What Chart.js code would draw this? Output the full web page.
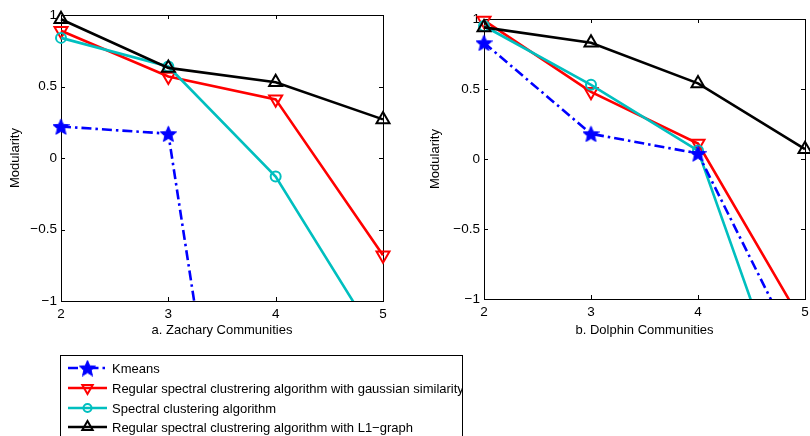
<!DOCTYPE html>
<html>
<head>
<meta charset="utf-8">
<script src="https://cdn.jsdelivr.net/npm/chart.js@4.4.1/dist/chart.umd.min.js"></script>
<style>
  html, body { margin: 0; padding: 0; background: #fff; width: 810px; height: 436px; overflow: hidden; position: relative; }
  canvas { position: absolute; }
</style>
</head>
<body>
<canvas id="left" style="left:0;top:0;width:420px;height:345px"></canvas>
<canvas id="right" style="left:420px;top:0;width:420px;height:345px"></canvas>
<canvas id="legend" style="left:0;top:340px;width:810px;height:96px"></canvas>
<script>
// ---------- data ----------
const communities = [2, 3, 4, 5];
const yTicks = [-1, -0.5, 0, 0.5, 1];
const seriesNames = [
  'Kmeans',
  'Regular spectral clustrering algorithm with gaussian similarity',
  'Spectral clustering algorithm',
  'Regular spectral clustrering algorithm with L1\u2212graph'
];
// a. Zachary
const zacharyKmeans   = [0.22, 0.17, -4.7, -6.0];
const zacharyGaussian = [0.89, 0.57, 0.41, -0.68];
const zacharySpectral = [0.84, 0.64, -0.13, -1.34];
const zacharyL1       = [0.97, 0.63, 0.53, 0.27];
// b. Dolphin
const dolphinKmeans   = [0.83, 0.18, 0.04, -1.49];
const dolphinGaussian = [0.99, 0.48, 0.11, -1.20];
const dolphinSpectral = [0.95, 0.53, 0.06, -2.10];
const dolphinL1       = [0.94, 0.83, 0.54, 0.07];

// ---------- styles ----------
const FONT = 'Liberation Sans, Arial, Helvetica, sans-serif';
const BLUE = '#0000ff', RED = '#ff0000', CYAN = '#00bfbf', BLACK = '#000000';

function makeStar(size, color) {
  const c = document.createElement('canvas');
  c.width = size; c.height = size;
  const g = c.getContext('2d');
  const cx = size / 2, cy = size / 2 + 0.9, R = size / 2, r = R * 0.45;
  g.beginPath();
  for (let i = 0; i < 10; i++) {
    const a = -Math.PI / 2 + i * Math.PI / 5;
    const rad = i % 2 === 0 ? R : r;
    g.lineTo(cx + rad * Math.cos(a), cy + rad * Math.sin(a));
  }
  g.closePath();
  g.fillStyle = color; g.fill();
  g.strokeStyle = color; g.lineWidth = 1; g.stroke();
  return c;
}
const starImg = makeStar(17, BLUE);

const styles = [
  { color: BLUE, dash: [10, 4, 2.5, 4], pointStyle: starImg, radius: 8, rotation: 0, fill: BLUE },
  { color: RED, dash: [], pointStyle: 'triangle', radius: 7.5, rotation: 180, fill: 'rgba(0,0,0,0)' },
  { color: CYAN, dash: [], pointStyle: 'circle', radius: 5, rotation: 0, fill: 'rgba(0,0,0,0)' },
  { color: BLACK, dash: [], pointStyle: 'triangle', radius: 7.5, rotation: 0, fill: 'rgba(0,0,0,0)' }
];

function toPoints(vals) { return communities.map((x, i) => ({ x: x, y: vals[i] })); }

function buildDatasets(seriesList) {
  return seriesList.map((vals, i) => {
    const s = styles[i];
    return {
      label: seriesNames[i],
      data: toPoints(vals),
      borderColor: s.color,
      backgroundColor: s.fill,
      borderWidth: 2.6,
      borderDash: s.dash,
      pointStyle: s.pointStyle,
      pointRadius: s.radius,
      pointRotation: s.rotation,
      pointBorderColor: s.color,
      pointBackgroundColor: s.fill,
      pointBorderWidth: 2,
      tension: 0,
      fill: false,
      clip: { left: 12, top: 12, right: 12, bottom: 0 },
      order: i === 0 ? 0 : 4 - i
    };
  });
}

function fmt(v) {
  if (v === 0) return '0';
  const s = String(Math.abs(v));
  return (v < 0 ? '\u2212' : '') + s;
}

// box + inward ticks (MATLAB style)
const boxPlugin = {
  id: 'matlabBox',
  beforeDatasetsDraw(chart) {
    const { ctx, chartArea: a, scales } = chart;
    ctx.save();
    ctx.strokeStyle = '#000';
    ctx.lineWidth = 1;
    ctx.strokeRect(Math.round(a.left) + 0.5, Math.round(a.top) + 0.5,
                   Math.round(a.right - a.left), Math.round(a.bottom - a.top));
    const L = 4;
    ctx.beginPath();
    communities.forEach(v => {
      const px = Math.round(scales.x.getPixelForValue(v)) + 0.5;
      ctx.moveTo(px, a.bottom); ctx.lineTo(px, a.bottom - L);
      ctx.moveTo(px, a.top); ctx.lineTo(px, a.top + L);
    });
    yTicks.forEach(v => {
      const py = Math.round(scales.y.getPixelForValue(v)) + 0.5;
      ctx.moveTo(a.left, py); ctx.lineTo(a.left + L, py);
      ctx.moveTo(a.right, py); ctx.lineTo(a.right - L, py);
    });
    ctx.stroke();
    ctx.restore();
  }
};

function makeChart(id, seriesList, title, geom) {
  return new Chart(document.getElementById(id), {
    type: 'line',
    data: { datasets: buildDatasets(seriesList) },
    options: {
      responsive: false,
      animation: false,
      devicePixelRatio: 1,
      layout: { padding: { top: geom.top, right: geom.right, left: 0, bottom: 0 } },
      plugins: { legend: { display: false }, tooltip: { enabled: false } },
      scales: {
        x: {
          type: 'linear', min: 2, max: 5,
          afterFit(s) { s.height = geom.xh; },
          afterBuildTicks(s) { s.ticks = communities.map(v => ({ value: v })); },
          grid: { display: false, drawTicks: false },
          border: { display: false },
          ticks: { padding: 5, color: '#000', font: { family: FONT, size: 13.5 }, callback: v => String(v), maxRotation: 0, autoSkip: false },
          title: { display: true, text: title, color: '#000', font: { family: FONT, size: 13 }, padding: { top: 0, bottom: 7 } }
        },
        y: {
          type: 'linear', min: -1, max: 1,
          afterFit(s) { s.width = geom.yw; },
          afterBuildTicks(s) { s.ticks = yTicks.map(v => ({ value: v })); },
          grid: { display: false, drawTicks: false },
          border: { display: false },
          ticks: { padding: 4, color: '#000', font: { family: FONT, size: 13.5 }, callback: v => fmt(v), autoSkip: false },
          title: { display: true, text: 'Modularity', color: '#000', font: { family: FONT, size: 13 }, padding: { top: 8, bottom: 0 } }
        }
      }
    },
    plugins: [boxPlugin]
  });
}

[document.getElementById('left'), document.getElementById('right')].forEach(c => { c.width = 420; c.height = 345; });

makeChart('left', [zacharyKmeans, zacharyGaussian, zacharySpectral, zacharyL1], 'a. Zachary Communities',
  { top: 15, right: 420 - 383, yw: 61, xh: 345 - 301 });
makeChart('right', [dolphinKmeans, dolphinGaussian, dolphinSpectral, dolphinL1], 'b. Dolphin Communities',
  { top: 19, right: 420 - 385, yw: 64, xh: 345 - 299 });

// ---------- legend ----------
(function drawLegend() {
  const c = document.getElementById('legend');
  c.width = 810; c.height = 96;
  const g = c.getContext('2d');
  g.fillStyle = '#fff'; g.fillRect(0, 0, 810, 96);
  const rows = [28, 48, 68, 87];
  g.font = '13px ' + FONT;
  g.textBaseline = 'middle';
  seriesNames.forEach((name, i) => {
    const s = styles[i];
    const y = rows[i];
    g.save();
    g.strokeStyle = s.color; g.lineWidth = 2.6;
    g.setLineDash(s.dash);
    g.beginPath(); g.moveTo(68, y); g.lineTo(107, y); g.stroke();
    g.restore();
    g.save();
    g.strokeStyle = s.color; g.fillStyle = s.fill; g.lineWidth = 2;
    Chart.helpers.drawPoint(g, { pointStyle: s.pointStyle, radius: i === 2 ? 4 : (i === 0 ? 8 : 6), rotation: s.rotation, borderWidth: 2 }, 87.5, y);
    g.restore();
    g.fillStyle = '#000';
    g.fillText(name, 112, y + 1);
  });
  g.fillStyle = '#fff'; g.fillRect(463, 0, 347, 96);
  g.strokeStyle = '#000'; g.lineWidth = 1;
  g.strokeRect(60.5, 15.5, 402, 100);
})();
</script>
</body>
</html>
